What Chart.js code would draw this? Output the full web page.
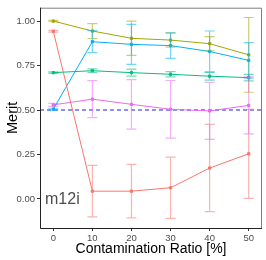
<!DOCTYPE html>
<html>
<head>
<meta charset="utf-8">
<script src="https://cdn.jsdelivr.net/npm/chart.js@4.4.1/dist/chart.umd.min.js"></script>
<style>
  html, body { margin: 0; padding: 0; background: #fff; }
  #wrap { width: 266px; height: 260px; position: relative; }
</style>
</head>
<body>
<div id="wrap"><canvas id="c" width="266" height="260"></canvas></div>
<script>
// ====== DATA ======
const ratios = [0, 10, 20, 30, 40, 50];
const xTicks = [0, 10, 20, 30, 40, 50];
const yTicks = [0, 0.25, 0.5, 0.75, 1.0];

const redMean   = [0.943, 0.044, 0.044, 0.063, 0.174, 0.254];
const redErr    = [0.005, 0.145, 0.150, 0.172, 0.245, 0.250];
const oliveMean = [1.000, 0.944, 0.903, 0.893, 0.873, 0.810];
const oliveErr  = [0.004, 0.042, 0.096, 0.040, 0.040, 0.210];
const greenMean = [0.710, 0.721, 0.710, 0.701, 0.690, 0.682];
const greenErr  = [0.004, 0.010, 0.020, 0.015, 0.022, 0.018];
const blueMean  = [0.505, 0.884, 0.869, 0.862, 0.829, 0.779];
const blueErr   = [0.005, 0.062, 0.112, 0.072, 0.115, 0.100];
const pinkMean  = [0.529, 0.561, 0.532, 0.504, 0.495, 0.526];
const pinkErr   = [0.008, 0.104, 0.139, 0.162, 0.160, 0.160];

const refLine = 0.5;
const label = 'm12i';

// ====== SERIES ======
const series = [
  { mean: redMean,   err: redErr,   color: '#F8766D' },
  { mean: oliveMean, err: oliveErr, color: '#A3A500' },
  { mean: greenMean, err: greenErr, color: '#00BF7D' },
  { mean: blueMean,  err: blueErr,  color: '#00B0F6' },
  { mean: pinkMean,  err: pinkErr,  color: '#E76BF3' }
];

const FONT = '"Liberation Sans", Arial, sans-serif';

function alpha(hex, a) {
  const r = parseInt(hex.slice(1,3),16), g = parseInt(hex.slice(3,5),16), b = parseInt(hex.slice(5,7),16);
  return `rgba(${r},${g},${b},${a})`;
}

const X_MIN = -3.4, X_MAX = 53.4;
const Y_MIN = -0.163, Y_MAX = 1.075;

const datasets = series.map(s => ({
  type: 'line',
  data: ratios.map((x, i) => ({ x, y: s.mean[i] })),
  borderColor: s.color,
  backgroundColor: s.color,
  borderWidth: 1,
  pointRadius: 1.6,
  pointStyle: 'rect',
  pointHoverRadius: 0,
  tension: 0
}));

datasets.push({
  type: 'line',
  data: [{ x: X_MIN, y: refLine }, { x: X_MAX, y: refLine }],
  borderColor: '#1F1FE0',
  borderWidth: 1.2,
  borderDash: [4, 3],
  pointRadius: 0
});

// ====== PLUGINS ======
const errorBars = {
  id: 'errorBars',
  afterDatasetsDraw(chart) {
    const { ctx, scales: { x, y } } = chart;
    ctx.save();
    ctx.lineWidth = 1.2;
    series.forEach(s => {
      ctx.strokeStyle = alpha(s.color, 0.55);
      ratios.forEach((r, i) => {
        const px = x.getPixelForValue(r);
        const top = y.getPixelForValue(s.mean[i] + s.err[i]);
        const bot = y.getPixelForValue(s.mean[i] - s.err[i]);
        ctx.beginPath();
        ctx.moveTo(px, top); ctx.lineTo(px, bot);
        ctx.moveTo(px - 5, top); ctx.lineTo(px + 5, top);
        ctx.moveTo(px - 5, bot); ctx.lineTo(px + 5, bot);
        ctx.stroke();
      });
    });
    ctx.restore();
  }
};

const panel = {
  id: 'panel',
  afterDraw(chart) {
    const { ctx, chartArea: a, scales: { x, y } } = chart;
    ctx.save();
    ctx.strokeStyle = '#7f7f7f';
    ctx.lineWidth = 1;
    ctx.beginPath();
    ctx.moveTo(a.left, a.top + 0.5); ctx.lineTo(a.right - 0.5, a.top + 0.5);
    ctx.lineTo(a.right - 0.5, a.bottom);
    ctx.stroke();
    ctx.strokeStyle = '#222';
    ctx.beginPath();
    ctx.moveTo(a.left + 0.5, a.top); ctx.lineTo(a.left + 0.5, a.bottom + 0.5);
    ctx.lineTo(a.right, a.bottom + 0.5);
    ctx.stroke();
    // panel label
    ctx.fillStyle = '#4d4d4d';
    ctx.font = '16px ' + FONT;
    ctx.textBaseline = 'middle';
    ctx.fillText(label, a.left + 5, y.getPixelForValue(-0.005));
    ctx.restore();
  }
};

// ====== CHART ======
new Chart(document.getElementById('c'), {
  data: { datasets },
  options: {
    responsive: false,
    animation: false,
    events: [],
    layout: { padding: { left: 4, right: 4, top: 4, bottom: 2 } },
    plugins: { legend: { display: false }, tooltip: { enabled: false } },
    scales: {
      x: {
        type: 'linear',
        min: X_MIN, max: X_MAX,
        afterBuildTicks: s => { s.ticks = xTicks.map(v => ({ value: v })); },
        grid: { display: true, drawOnChartArea: false, drawTicks: true, tickLength: 3, color: '#333' },
        border: { display: false },
        ticks: { color: '#4d4d4d', font: { family: FONT, size: 9.5 }, padding: 2, maxRotation: 0 },
        title: { display: true, text: 'Contamination Ratio [%]', color: '#000',
                 font: { family: FONT, size: 14 }, padding: { top: 0, bottom: 0 } },
        afterFit: s => { s.height = 30; }
      },
      y: {
        type: 'linear',
        min: Y_MIN, max: Y_MAX,
        afterBuildTicks: s => { s.ticks = yTicks.map(v => ({ value: v })); },
        grid: { display: true, drawOnChartArea: false, drawTicks: true, tickLength: 3, color: '#333' },
        border: { display: false },
        ticks: { color: '#4d4d4d', font: { family: FONT, size: 9.5 }, padding: 2,
                 callback: v => v.toFixed(2) },
        title: { display: true, text: 'Merit', color: '#000',
                 font: { family: FONT, size: 14.5 }, padding: { top: 0, bottom: 2 } },
        afterFit: s => { s.width = 36; }
      }
    }
  },
  plugins: [errorBars, panel]
});
</script>
</body>
</html>
